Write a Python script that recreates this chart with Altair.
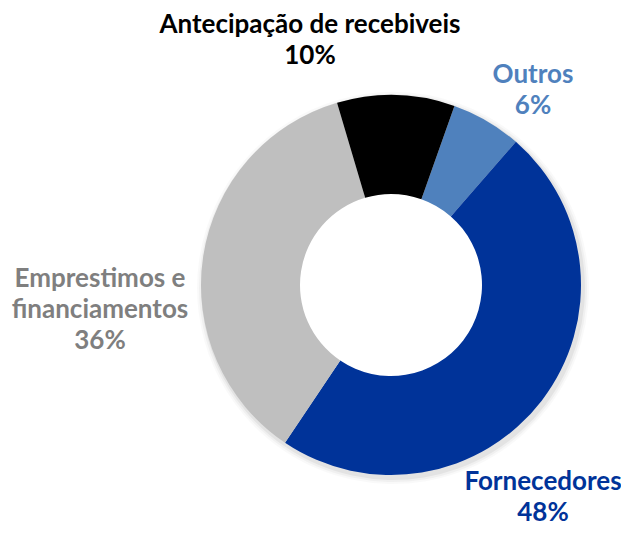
import math
import altair as alt
import pandas as pd

categories = ["Outros", "Fornecedores", "Emprestimos e financiamentos", "Antecipação de recebiveis"]
values = [6, 48, 36, 10]
labels = ["Outros\n6%", "Fornecedores\n48%", "Emprestimos e\nfinanciamentos\n36%", "Antecipação de recebiveis\n10%"]
slice_colors = ["#4F81BD", "#003399", "#BFBFBF", "#000000"]
label_colors = ["#4F81BD", "#003399", "#7F7F7F", "#000000"]

# layout (chart coordinates)
label_x = [525, 535, 92, 302]
label_y = [75, 482, 279, 25]
cx, cy = 383, 277
outer_r, inner_r = 190, 91
start = math.radians(19.5)

df = pd.DataFrame({"cat": categories, "value": values, "order": list(range(4))})
ldf = pd.DataFrame({"label": labels, "lx": label_x, "ly": label_y, "col": label_colors})

theta = alt.Theta("value:Q", stack=True, scale=alt.Scale(range=[start, start + 2 * math.pi]))

shadows = []
for k, op in [(6, 0.025), (4, 0.035), (2, 0.05)]:
    shadows.append(
        alt.Chart(df).mark_arc(outerRadius=outer_r + k, innerRadius=inner_r + 8, color="#000000", opacity=op).encode(
            theta=theta, order=alt.Order("order:Q"),
            x=alt.value(cx + 2), y=alt.value(cy + 3),
        )
    )

arc = alt.Chart(df).mark_arc(outerRadius=outer_r, innerRadius=inner_r).encode(
    theta=theta,
    order=alt.Order("order:Q"),
    color=alt.Color("cat:N", scale=alt.Scale(domain=categories, range=slice_colors), legend=None),
    x=alt.value(cx),
    y=alt.value(cy),
)

text = alt.Chart(ldf).mark_text(
    font="Lato", fontWeight="bold", fontSize=26, lineBreak="\n", lineHeight=31,
    align="center", baseline="alphabetic",
).encode(
    x=alt.X("lx:Q", scale=None),
    y=alt.Y("ly:Q", scale=None),
    text="label:N",
    color=alt.Color("col:N", scale=None),
)

chart = alt.layer(*shadows, arc, text).properties(
    width=613, height=520, padding=0, autosize="none"
).configure_view(stroke=None)

chart.save("out.html", embed_options={"renderer": "svg", "actions": False})
